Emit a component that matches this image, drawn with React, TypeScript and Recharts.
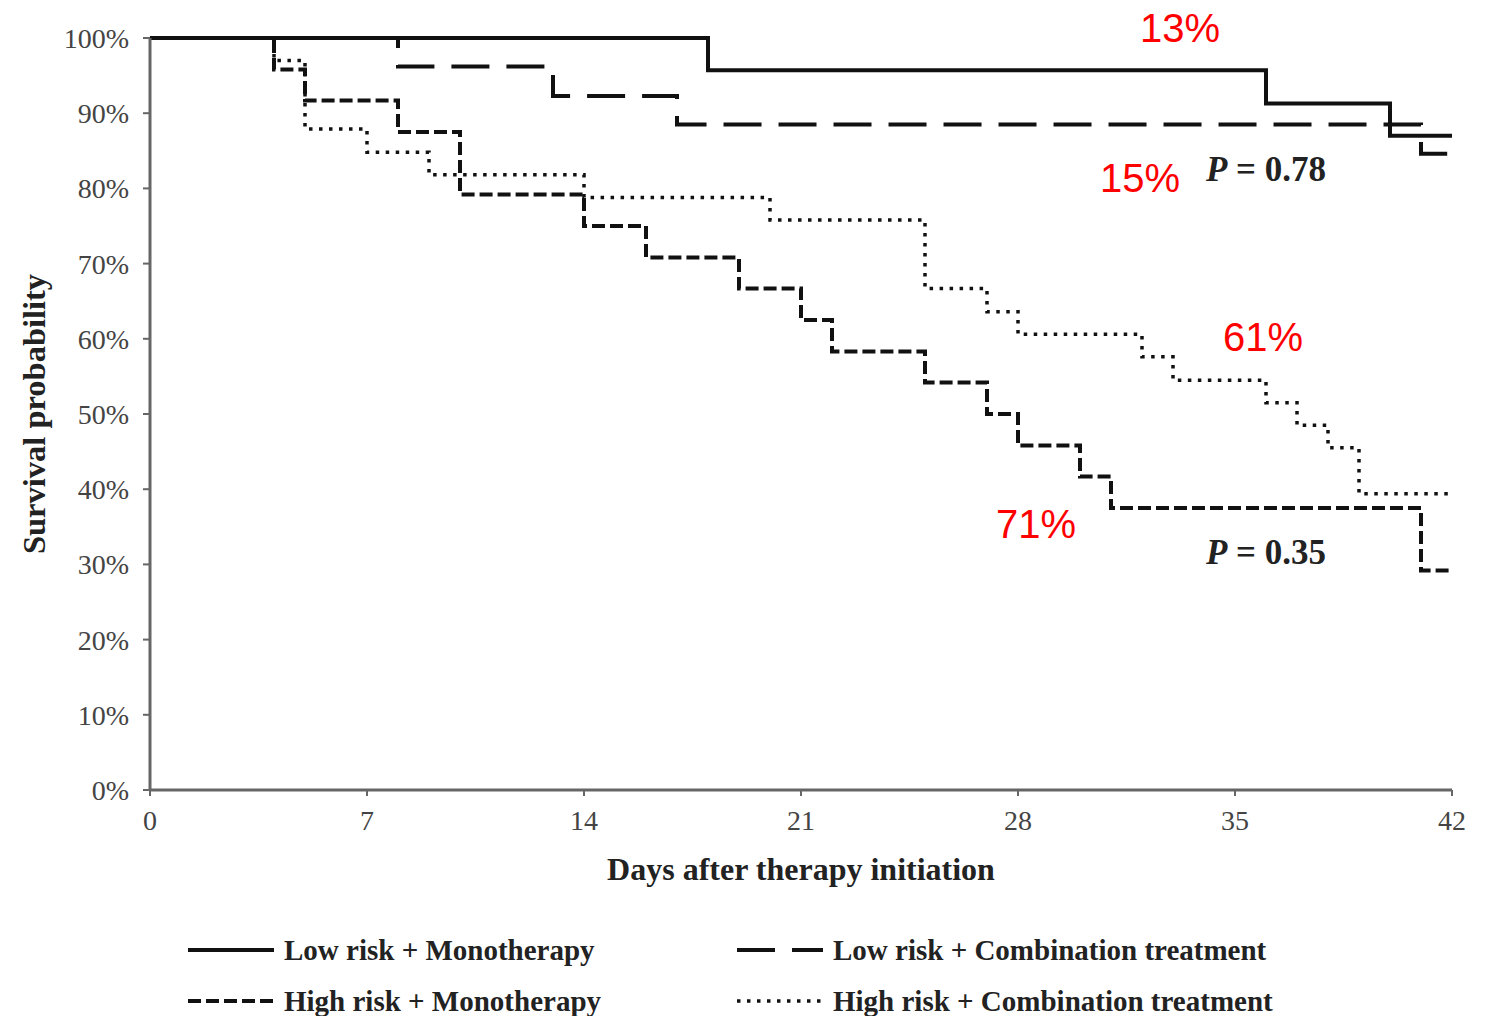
import React from "react";
import { LineChart, Line, XAxis, YAxis } from "recharts";

// Kaplan-Meier step points: survival (%) from the given day onward
const lowMonoDays = [0, 18, 36, 40, 42];
const lowMonoSurv = [100, 95.7, 91.3, 87.0, 87.0];

const lowComboDays = [0, 8, 13, 17, 41, 42];
const lowComboSurv = [100, 96.2, 92.3, 88.5, 84.6, 84.6];

const highMonoDays = [0, 4, 5, 8, 10, 14, 16, 19, 21, 22, 25, 27, 28, 30, 31, 41, 42];
const highMonoSurv = [100, 95.8, 91.7, 87.5, 79.2, 75.0, 70.8, 66.7, 62.5, 58.3, 54.2, 50.0, 45.8, 41.7, 37.5, 29.2, 29.2];

const highComboDays = [0, 4, 5, 7, 9, 14, 20, 25, 27, 28, 32, 33, 36, 37, 38, 39, 42];
const highComboSurv = [100, 97.0, 87.9, 84.8, 81.8, 78.8, 75.8, 66.7, 63.6, 60.6, 57.6, 54.5, 51.5, 48.5, 45.5, 39.4, 39.4];

const xTicks = [0, 7, 14, 21, 28, 35, 42];
const yTicks = [0, 10, 20, 30, 40, 50, 60, 70, 80, 90, 100];

const toRows = (days: number[], surv: number[]) => days.map((d, i) => ({ day: d, surv: surv[i] }));

const SERIF = '"Liberation Serif", "Times New Roman", serif';
const INK = "#111";
const AXIS = "#666";

const series = [
  { name: "Low risk + Monotherapy", data: toRows(lowMonoDays, lowMonoSurv), dash: undefined, width: 4 },
  { name: "Low risk + Combination treatment", data: toRows(lowComboDays, lowComboSurv), dash: "38 17", width: 4 },
  { name: "High risk + Monotherapy", data: toRows(highMonoDays, highMonoSurv), dash: "13 5", width: 4 },
  { name: "High risk + Combination treatment", data: toRows(highComboDays, highComboSurv), dash: "3.5 6.5", width: 3.5 },
];

function LegendItem({ s, left, top }: { s: (typeof series)[number]; left: number; top: number }) {
  return (
    <div style={{ position: "absolute", left, top, display: "flex", alignItems: "center", height: 40 }}>
      <svg width={88} height={10} style={{ marginRight: 8 }}>
        <line x1={0} y1={5} x2={86} y2={5} stroke={INK} strokeWidth={s.width} strokeDasharray={s.dash} />
      </svg>
      <span style={{ fontFamily: SERIF, fontWeight: 700, fontSize: 29, color: "#222", whiteSpace: "nowrap" }}>
        {s.name}
      </span>
    </div>
  );
}

export default function App() {
  return (
    <div style={{ position: "absolute", left: 0, top: 0, width: 1491, height: 1016, background: "#fff" }}>
      <LineChart width={1491} height={1016} margin={{ top: 38, right: 39, left: 0, bottom: 126 }}>
        <XAxis
          dataKey="day"
          type="number"
          domain={[0, 42]}
          ticks={xTicks}
          allowDuplicatedCategory={false}
          height={100}
          axisLine={{ stroke: AXIS, strokeWidth: 3 }}
          tickLine={{ stroke: AXIS, strokeWidth: 2 }}
          tickSize={6}
          tickMargin={14}
          tick={{ fontFamily: SERIF, fontSize: 28, fill: "#444" }}
          label={{
            value: "Days after therapy initiation",
            position: "insideBottom",
            offset: 10,
            style: { fontFamily: SERIF, fontWeight: 700, fontSize: 32, fill: "#222" },
          }}
        />
        <YAxis
          type="number"
          domain={[0, 100]}
          ticks={yTicks}
          width={150}
          tickFormatter={(v: number) => `${v}%`}
          axisLine={{ stroke: AXIS, strokeWidth: 3 }}
          tickLine={{ stroke: AXIS, strokeWidth: 2 }}
          tickSize={7}
          tickMargin={14}
          tick={{ fontFamily: SERIF, fontSize: 28, fill: "#444" }}
          label={{
            value: "Survival probability",
            angle: -90,
            position: "insideLeft",
            offset: 33,
            style: { fontFamily: SERIF, fontWeight: 700, fontSize: 32.5, fill: "#222", textAnchor: "middle" },
          }}
        />
        {series.map((s) => (
          <Line
            key={s.name}
            data={s.data}
            dataKey="surv"
            name={s.name}
            type="stepAfter"
            stroke={INK}
            strokeWidth={s.width}
            strokeDasharray={s.dash}
            dot={false}
            activeDot={false}
            isAnimationActive={false}
          />
        ))}
      </LineChart>

      <svg width={1491} height={1016} style={{ position: "absolute", left: 0, top: 0, pointerEvents: "none" }}>
        <g fontFamily='"Liberation Sans", Arial, sans-serif' fontSize={40} fill="#ff0000" textAnchor="middle">
          <text x={1180} y={42}>13%</text>
          <text x={1140} y={192}>15%</text>
          <text x={1263} y={351}>61%</text>
          <text x={1036} y={538}>71%</text>
        </g>
        <g fontFamily={SERIF} fontWeight={700} fontSize={35} fill="#222" textAnchor="middle">
          <text x={1266} y={181}>
            <tspan fontStyle="italic">P</tspan> = 0.78
          </text>
          <text x={1266} y={564}>
            <tspan fontStyle="italic">P</tspan> = 0.35
          </text>
        </g>
      </svg>

      <LegendItem s={series[0]} left={188} top={930} />
      <LegendItem s={series[1]} left={737} top={930} />
      <LegendItem s={series[2]} left={188} top={981} />
      <LegendItem s={series[3]} left={737} top={981} />
    </div>
  );
}
